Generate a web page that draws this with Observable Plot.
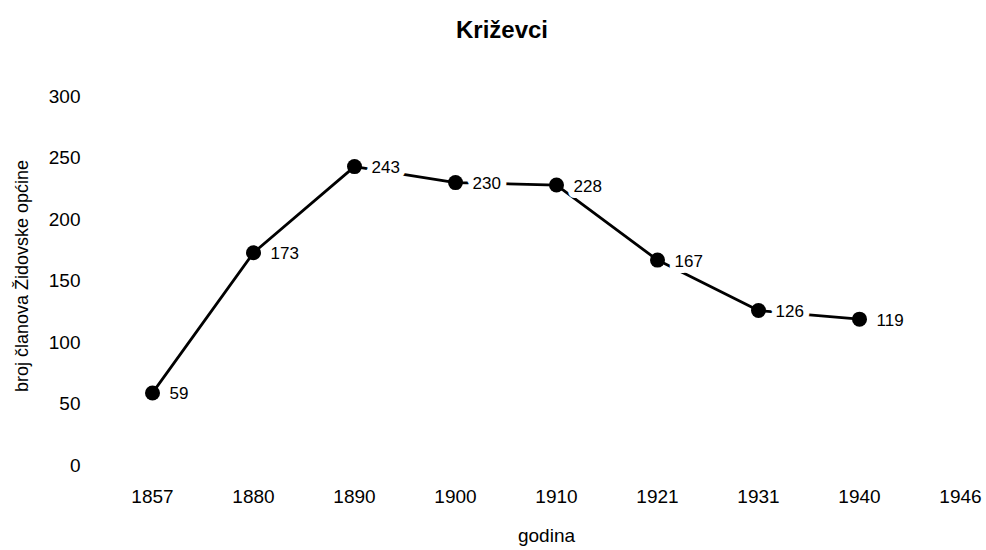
<!DOCTYPE html>
<html>
<head>
<meta charset="utf-8">
<script src="https://cdn.jsdelivr.net/npm/d3@7"></script>
<script src="https://cdn.jsdelivr.net/npm/@observablehq/plot@0.6"></script>
<style>
  body { margin: 0; background: #fff; font-family: "Liberation Sans", Arial, Helvetica, sans-serif; }
  #title { height: 60px; width: 986px; text-align: center; font-weight: bold; font-size: 24px; line-height: 24px; padding-top: 18px; box-sizing: border-box; text-indent: 18px; }
</style>
</head>
<body>
<div id="title">Križevci</div>
<div id="chart"></div>
<script>
const years = ["1857", "1880", "1890", "1900", "1910", "1921", "1931", "1940", "1946"];
const dataYears = ["1857", "1880", "1890", "1900", "1910", "1921", "1931", "1940"];
const members = [59, 173, 243, 230, 228, 167, 126, 119];
const yTicks = [0, 50, 100, 150, 200, 250, 300];
const xLabel = "godina";
const yLabel = "broj članova Židovske općine";

const data = dataYears.map((y, i) => ({year: y, value: members[i]}));

const chart = Plot.plot({
  width: 986,
  height: 490,
  marginLeft: 150,
  marginRight: 24,
  marginTop: 36,
  marginBottom: 85,
  style: {fontFamily: "'Liberation Sans', Arial, Helvetica, sans-serif", fontSize: "18px", color: "#000", background: "#fff"},
  x: {type: "point", domain: years, padding: 0},
  y: {domain: [0, 300]},
  marks: [
    Plot.axisX({ticks: years, tickSize: 0, tickPadding: 24, fontSize: 19, label: null}),
    Plot.axisY({ticks: yTicks, tickSize: 0, tickPadding: 70, fontSize: 19, label: null}),
    Plot.text([xLabel], {frameAnchor: "bottom", dx: -10, dy: 76, fontSize: 19, textAnchor: "middle"}),
    Plot.text([yLabel], {frameAnchor: "left", dx: -128, dy: -5, rotate: -90, fontSize: 18, textAnchor: "middle"}),
    Plot.line(data, {x: "year", y: "value", stroke: "#000", strokeWidth: 2.8}),
    Plot.text(data, {x: "year", y: "value", text: d => String(d.value), textAnchor: "start", dx: 17, dy: 1, fontSize: 17, fill: "#000", stroke: "#fff", strokeWidth: 12, paintOrder: "stroke"}),
    Plot.dot(data, {x: "year", y: "value", r: 7.5, fill: "#000", stroke: "none"})
  ]
});
document.getElementById("chart").appendChild(chart);
</script>
</body>
</html>
